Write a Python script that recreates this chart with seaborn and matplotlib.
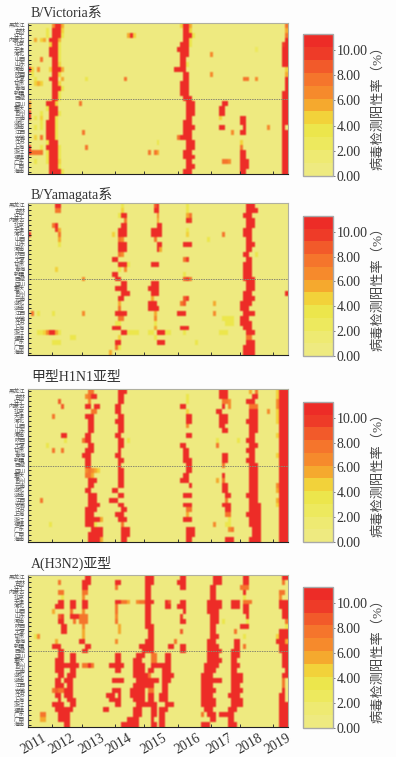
import numpy as np
import pandas as pd
import seaborn as sns
import matplotlib.pyplot as plt
from matplotlib.colors import ListedColormap

W, H = 396, 757

provinces = ["黑龙江", "吉林", "辽宁", "内蒙古", "北京", "天津", "河北", "山西", "山东", "河南",
             "陕西", "宁夏", "甘肃", "青海", "新疆", "西藏", "四川", "重庆", "贵州", "云南",
             "湖北", "湖南", "江西", "安徽", "江苏", "上海", "浙江", "福建", "广东", "广西", "海南"]
years = ["2011", "2012", "2013", "2014", "2015", "2016", "2017", "2018", "2019"]
band_colors = ["#eeea80", "#eeea72", "#ede95e", "#ece64c", "#f2d23a", "#f5a92e",
               "#f68a2c", "#f5752c", "#f25a2a", "#ee3b28", "#ed2c27"]
levels = ".123456789a"

victoria = [
    "........6a a5........ .......... .......... .......... .4aa5..... .......... .......... ......7",
    "......3.aa a4........ .......... .......... .......... ..aa4..... .......... .......... ......5",
    "......3.aa a3........ .......... ...5a4.... .......... ..aaa3.... .......... .......... ......7",
    "..5.45.aaa 5......... .......... .......... .......... ..aa3..... .......... .......... ......a",
    ".......4aa 3......... .......... .......... .......... .aaa3..... .......... .......... .....9a",
    ".......aaa 3......... .......... .......... .......... aaaa...... .......... ......2... .....aa",
    ".......aaa 3......... .......... .......... .......... .aaa...... .6........ .......... .....aa",
    "....7...aa 3......... .......... .......... .......... .aa....... .......... .......... .....aa",
    "........aa 4......... .......... .......... .......... .aa3...... .......... .......... .....aa",
    "a4.6...4aa a5........ .......... .......... .........a aaa....... .......... .......... ......4",
    ".3......aa 4......... .......... .......... .......... ..aa...... .6........ .......... ......5",
    "..3....aaa .5.......3 .......... ..7....... .......... ..aa...... .......... ..77..6... ......a",
    "..454...aa 4......... .......... .......... .......... .aaa...... .......... .......... ......a",
    "........aa a3........ .......... .......... .......... .aaa...... .......... .......... ......a",
    "........aa 3......... .......... .......... .......... .aaa...... .......... .......... .....aa",
    "........aa 3......... .......... .......... .......... ..aaa..... .......... .......... .....aa",
    "6.....aaa4 .......7.. .......... .......... .......... ...aaa.... .....aa... .......... .....aa",
    "5.....3aaa .......... .......... .......... .......... ...aaa.... ....aa.... .......... .....aa",
    "a...3..aaa 3......... .......... .......... .......... ...aaa.... ....aa.... .......... .....aa",
    "a.3.4..aa3 .......... .......... .......... .......... ...aa..... ....4..... .aa....... .....aa",
    "....3.aaa3 .......... .......... .......... .......... ..aaa..... .......... .aa....... .....aa",
    "..3.3.aaa3 .......... .......... .......... .......... ..aaaa.... ....aa.... ..a....... 6....a.",
    "......aaa3 ........7. .......... .......... .......... ..aaa..... ........6. .aa....... .....aa",
    "..4.7.aaa3 .......... .......... .......... .......... 7aaaa..... .......... .......... .....aa",
    "......3aaa .......... .......... .......... ...3...... ...aaa.... .......... .4........ .....aa",
    "a...3.aaaa 3........7 .......... .......... .......... ...aaa.... .......... .7........ .....aa",
    "a7777.3aaa 3......... .......... .......... 7.75...... ..aaa..... .......... .aa....... .....aa",
    "......3aaa 3......... .......... .......... .......... ..aaaa.... .......... .aa....... .....aa",
    "..3...3aaa 4......... .......... .......... .......... ...aa..... .....776.. .aaa...... .....aa",
    ".......aaa 3......... .......... .......... .......... ...aaa.... .......... .aaa...... .....aa",
    ".......aaa a3........ .......... .......... .......... ..aaa..... .......... .aa....... .....aa",
]

yamagata = [
    ".........a a......... .......... .3........ ..8a...... ...3...... .......... ...aaa.... .......",
    ".........7 7......... .......... .4........ ..aa...... ...3...... .......... ...aaaa... .......",
    ".......... .......... .......... 3aa....... ...6...... ...57..... .......... ..aaa..... .......",
    ".......... .......... .......... ..7....... ...5...... ...a9..... .......... ...aaa.... .......",
    "........7a .......... .......... .aa....... ...aa..... .......... .......... ...aaa.... .......",
    ".........9 5......... .......... aaa....... .aaaa..... ...3...... .......... ..aaa..... .......",
    "a......... 7......... ........4. aaa....... .aaaa..... ...4...... .....7.... ..aaa..... .......",
    ".......... 5......... .......... 76........ ..7....... .......... 3......... ...aa..... .......",
    ".......... 3......... .......... aaa....... ...aa..... ..aaa..... .......... ...aaa.... .......",
    ".......... .......... .......... aaa....... ...a5..... .......... .......... ...aa..... .......",
    ".......... .......... .......... 76........ .......... .......... .......... ..aa..3... .......",
    ".......... .......... ........aa .......... .......... ..79...... .......... ...aa..... .......",
    ".......... .......... .......... aaa3...... .aaa...... .......... .......... ..aaa..... .......",
    ".........4 .......... .......... 3.6....... .......... .......... .......... ..aaa..... .......",
    ".......... .......... ........aa .......... .......... ..3....... .......... ..aaa..... .......",
    ".......... ........6. .........a a......... .......... ..897..... .......... ..aaaa.... .......",
    ".......... .......... .......... .aa....... .aaa...... .......... .......... ...aaa.... .......",
    ".......... .......... .........a aaa....... aaaa...... .......... .......... ...aaa.... .......",
    ".......... .......... .......... .aaa...... .aaa...... .......... .......... ..aaa..... ......a",
    ".......... .......... .......... aa........ .5........ ..89...... .......... ..aaaa.... .......",
    ".......... .......... .......... 5......... aaa....... .78....... ..5....... .aaaa..... .......",
    ".......... .......... .......... 7......... aaaa...... .......... .......... .aaa...... .......",
    ".7.3....3. ........6. .........a aaa....... ..5....... aaa....... ..6....... ..aaaa.... .......",
    ".......... .......... .......... 77........ ..6....... .......... .....3333. .aaa...... .......",
    ".......... .......... .........3 3......... ..3....... .......... ......333. .aaaa..... .......",
    ".......... .......... ........aa a......... ..5....... .aaa...... .......... ..aaa..... .......",
    "...3346aa5 3......... .......... .aa3333... 33.aaa33.. ..3....... ....333... ...aaa.... .......",
    ".......... ....33.... .......... 4......... ..3....... .......... .......... ...77..... .......",
    "........33 3......... .........a a......... ...aaa.... ......3... .......... ...aaa.... .......",
    ".......... .......... .........7 3......... .......... .......... .......... ..aaaa.... .......",
    ".......... .......... .......5.. .......... .......... .......... .......... ..aaaa.... .......",
]

h1n1 = [
    ".......... .......... 77........ aaa....... .......... .......... ....aaa... ....5.7... ...4aaa",
    ".......... .........6 7aa....... aa........ .......... ...3...... ....aaa... .....aa... ...4aaa",
    ".......... 8......... 6......... aa........ .......... ...3...... .....776.. ...aaa.... ...6aaa",
    ".......... .8.......a a.aa.....a a......... .......... .aa....... .....a.6.. ....777... ...6aaa",
    ".......... .......... .77......a a......... .......... ...4...... ...aa..... ....aaa... 6..4aaa",
    "........7. .........a aa........ aa........ .......... ...aa..... ....aaa... ....aaa... ...4aaa",
    ".......... .......... aa.......a aa........ .......... ...aa..... ....aaa... ...aaaa... ...4aaa",
    ".......... .......... aa........ aa........ .......... ...6...... ....aa.... ....aaa... ....aaa",
    ".......... .......... aa........ aa........ .......... .......... .....aa... ....aaa... ....aaa",
    ".......... .aa......a a........a a......... .......... ...aa..... .......... ....aa.... ...4aaa",
    ".......... ..3.....7a a......... aa.3...... .......... .......... ...3...... 3..aaa.... ....aaa",
    "......3... .......... aa........ aa........ .......... .aa....... ...7...... ....aaa... ....aaa",
    "........7. .7.......a aa........ a......... .......... ..aa...... .......... ...aaa.... ....aaa",
    ".......... ........aa a........a a......... .......... ..aa...... .....aa... ....aa.... ...4aaa",
    ".......... .........a a......... aa........ .......... ..aaa..... .....aa... ...aaa.... ....aaa",
    ".......... .........a a......... a......... .......... ...aa..... .....7.... ....aaa... ....aaa",
    ".......... .........6 7654...... aa........ .......... ...aa..... .......... ....aaa... ....aaa",
    ".......... .........7 75........ aa........ .......... ..aa...... .....a.... ....aaa... ....aaa",
    ".......... .......... aaa....... aa........ .......... .aaa...... ...5.7.... ....aaa... ....aaa",
    ".......... .......... aa........ aa........ .......... ....a..... .....aa... ....aaa... ...6aaa",
    ".......... .........a a.......aa .......... .......... .......... .....aa... ....aaa... ...5aaa",
    ".......... .......... aaa....... aa........ .......... ..aaa..... ......aa.. ...aaaa... ....aaa",
    "....7..... .......... aaa....aaa .......... .......... .......... ......7... ....aaa... ...5aaa",
    ".......... .......... aaaa...... aa........ .......... ..aaa..... .....aaa.. ....aaaa.. ...4aaa",
    ".......... .........a aaa....... .aa....... .......... ...77..... ......aa.. ....aaaa.. ....aaa",
    ".......... .........a aa.......a aa........ .......... ...5...... ......77.. ...aaaaa.. ....aaa",
    ".......... .........a aaaa5..... aaa....... .......... ..aaa..... .......3.. ....aaaa.. ....aaa",
    ".......3.. .........a aa3....... .7........ .......... .......... ..6...33.. ....aaaa.. ....aaa",
    ".......... .......... .aaaa..... .aaa...... .......... ...aaa.... .......67. .....aaa.. ....aaa",
    ".......... .......... aaaaa..... .aaa...... .......... ...aaa.... .......... .....aaa.. ....aaa",
    ".......... .......... aaaa5..... .aa....... .......... ...aa..... ......aaa. ....aaaa.. ....aaa",
]

h3n2 = [
    ".......... .........a a......... .........a aa........ .aa....... ..aaa..... ..aa...... .....aa",
    ".......... 7.......aa a........a a........a aa........ aaa....... ..aaa..... ..aa...... .....7.",
    ".......... ........aa .........7 .........a a......... .aa....... .aa....... .777...... .......",
    ".......... 77......77 .......... .........a a......... .......... .aa....... ..a....... ....77.",
    ".......... .3......6. .......... .........a a......... .......... .aa....... ..3....... ....6..",
    ".......... aa..aa..aa .........a a775..677a aa....a8.. .aa....... aaaaa...aa a.777..... ....aaa",
    ".........a aa..aa..aa .........7 .........a a.....aa.. aaa....... aaaaa...aa a.aa...... ....aaa",
    "........5. ....7...6. .........7 .........a a......... ..a....... aaaa...... ..aa...... .....aa",
    ".......... 89..aaa777 .........6 .........a a......... .9........ .aaa...... ...a...... .....aa",
    ".......... aa...7.777 .........7 .........a a......... .aa....... .aaa.3.... ...3...... ......7",
    ".......... .aa.....6. .......... 5........a aa........ .......... .aa....... .aaa...... ......3",
    ".......... .aa.....5. .......... 5......... aa........ .8........ .aa......7 .......... ....aaa",
    "..36...... ........5. .......... .......... aa........ .......... .aaa...... ..3....... ...4aaa",
    ".........5 .......aa. .........6 .........a aa.......7 .......... aaa......a a......... ...aaa5",
    "........aa a........a a......... .......aaa aa.....aa. .aa....... aaaa.....a a.7....... ....aaa",
    ".......... aa......aa .......... ........aa aa........ .aa....... aaaaa...aa a......... ....aaa",
    ".......... aa..aa.... .........a a.....aaa. .77...aa.. .......... aaaa....aa a......... .....aa",
    ".........a aa..aa.... .........a a....aaa.. .77...aa.. .......... aaaaa...aa .......... .....aa",
    ".........a aaaaaaa.77 a7.....aaa aa...aaaa. .aaaaaaa.. .........a aaaa....aa a......... .....aa",
    ".........a aa..aa.... .........a a....aaaa. aa...aaa.. .........a aaa.....aa .......... ......a",
    ".......... aa.aaa.... .......... .....aaaaa 7....aaaa. ........aa aa......aa aa........ .....aa",
    ".........a a.aaa..... ........aa aa....aaaa aaaa.aaa.. ........aa aaaaa...aa aa........ .....7.",
    ".........a aa.aa..... .......... .....aaaaa aa...aa... ........aa aa......aa a......... .....7.",
    "........78 77aaa..... ........aa a...aaaaa. 77...aa... ........aa aaa.....aa aa........ .....a.",
    ".........a a.aaa..... ......aaa. a...aaaaa. aa..aaa... ........aa aa.....aaa a......... ....aa.",
    ".......... a..aaa.... .......aaa a....aaaa. aa..aaa... ........aa aaa.....aa aa........ ....aa.",
    "........aa aa..aa.... .........a a.....aaaa aaa...aaa. ........aa aaa.....aa aa........ ....aaa",
    ".........a aaaaa..... .....aa... .....aaa.. .aa.aaa... .........a aa.....aaa .......... ....aaa",
    "....77.... aaaa...... .......... .....aaa.. .aa.aa.... ........7. aaa.aaaaa. .......... ....aaa",
    "....55.... aaaa...... .......... ...aaaa... .a..aa.... .......... .aa....aa. .......... ....aaa",
    ".......... ..aa...... .......... .aaaaaa... .aa.aa.... ........aa a......aaa .......... ....aaa",
]

panel_names = ["B/Victoria系", "B/Yamagata系", "甲型H1N1亚型", "A(H3N2)亚型"]
panel_rows = [victoria, yamagata, h1n1, h3n2]
heat_top = [23, 203, 389, 575]
heat_bottom = [174, 355, 542, 727]
bar_top = [34, 216, 402, 587]
bar_bottom = [176, 356, 542, 728]
title_y = [13, 195, 378, 563]

# tick marks and year label centres, in heatmap columns
year_marks = [8, 18, 29, 38.7, 50.3, 61.3, 71, 82]
year_centres = [1.7, 11.3, 21.3, 30.3, 42, 53.3, 64, 74, 83.7]

plt.rcParams["font.family"] = ["Liberation Serif", "Noto Sans CJK SC"]
plt.rcParams["text.color"] = "#333333"
plt.rcParams["axes.labelcolor"] = "#444444"


def to_frame(rows):
    cells = [[levels.index(c) + 0.5 for c in r.replace(" ", "")] for r in rows]
    cells = [(c + [0.5] * 87)[:87] for c in cells]
    return pd.DataFrame(np.array(cells), index=provinces)


def place(left, top, right, bottom):
    return [left / W, 1 - bottom / H, (right - left) / W, (bottom - top) / H]


def soften(image, dpi):
    # the source is a scanned print, the cells bleed into each other a little
    kernel = np.array([0.25, 0.5, 0.25])
    out = np.pad(image, ((1, 1), (1, 1), (0, 0)), mode="edge")
    out = np.apply_along_axis(np.convolve, 1, out, kernel, mode="same")
    out = np.apply_along_axis(np.convolve, 0, out, kernel, mode="same")
    return out[1:-1, 1:-1], 0, 0


fig = plt.figure(figsize=(W / 100, H / 100), dpi=100)
cmap = ListedColormap(band_colors)

for i in range(4):
    ax = fig.add_axes(place(28, heat_top[i], 288, heat_bottom[i]))
    cax = fig.add_axes(place(303, bar_top[i], 333, bar_bottom[i]))
    sns.heatmap(to_frame(panel_rows[i]), ax=ax, cbar_ax=cax, cmap=cmap, vmin=0, vmax=11.27,
                xticklabels=False, yticklabels=True,
                cbar_kws={"ticks": [0, 2, 4, 6, 8, 10], "format": "%.2f"})
    ax.collections[0].set_agg_filter(soften)
    ax.axhline(15.5, color="#8a8a70", lw=0.7, ls=(0, (1.5, 1)))
    ax.tick_params(axis="y", direction="in", length=2, width=0.7, color="#222222",
                   labelsize=4, labelcolor="#555555", pad=2, rotation=0)
    ax.set_xticks(year_marks, minor=True)
    ax.tick_params(axis="x", which="minor", direction="in", length=2, width=0.7, color="#333333")
    ax.set_xticks([])
    if i == 3:
        ax.set_xticks(year_centres, years, rotation=30, ha="center", fontsize=10, color="#333333")
        ax.tick_params(axis="x", which="major", length=0, pad=3)
    for side, color in zip(["top", "bottom", "left", "right"],
                           ["#b0b0a0", "#222222", "#555555", "#b0b0a0"]):
        ax.spines[side].set_visible(True)
        ax.spines[side].set_color(color)
        ax.spines[side].set_linewidth(0.8)
    fig.text(31 / W, 1 - title_y[i] / H, panel_names[i], fontsize=10, va="center", ha="left")

    cax.tick_params(length=1.5, width=0.6, color="#666666", labelsize=10, labelcolor="#333333", pad=1)
    cbar = ax.collections[0].colorbar
    cbar.outline.set_edgecolor("#a8a8a8")
    cbar.outline.set_linewidth(1)
    cax.set_ylabel("病毒检测阳性率（%）", fontsize=9.5, labelpad=3)

fig.savefig("out.png", dpi=100, facecolor="#fdfdfd")
